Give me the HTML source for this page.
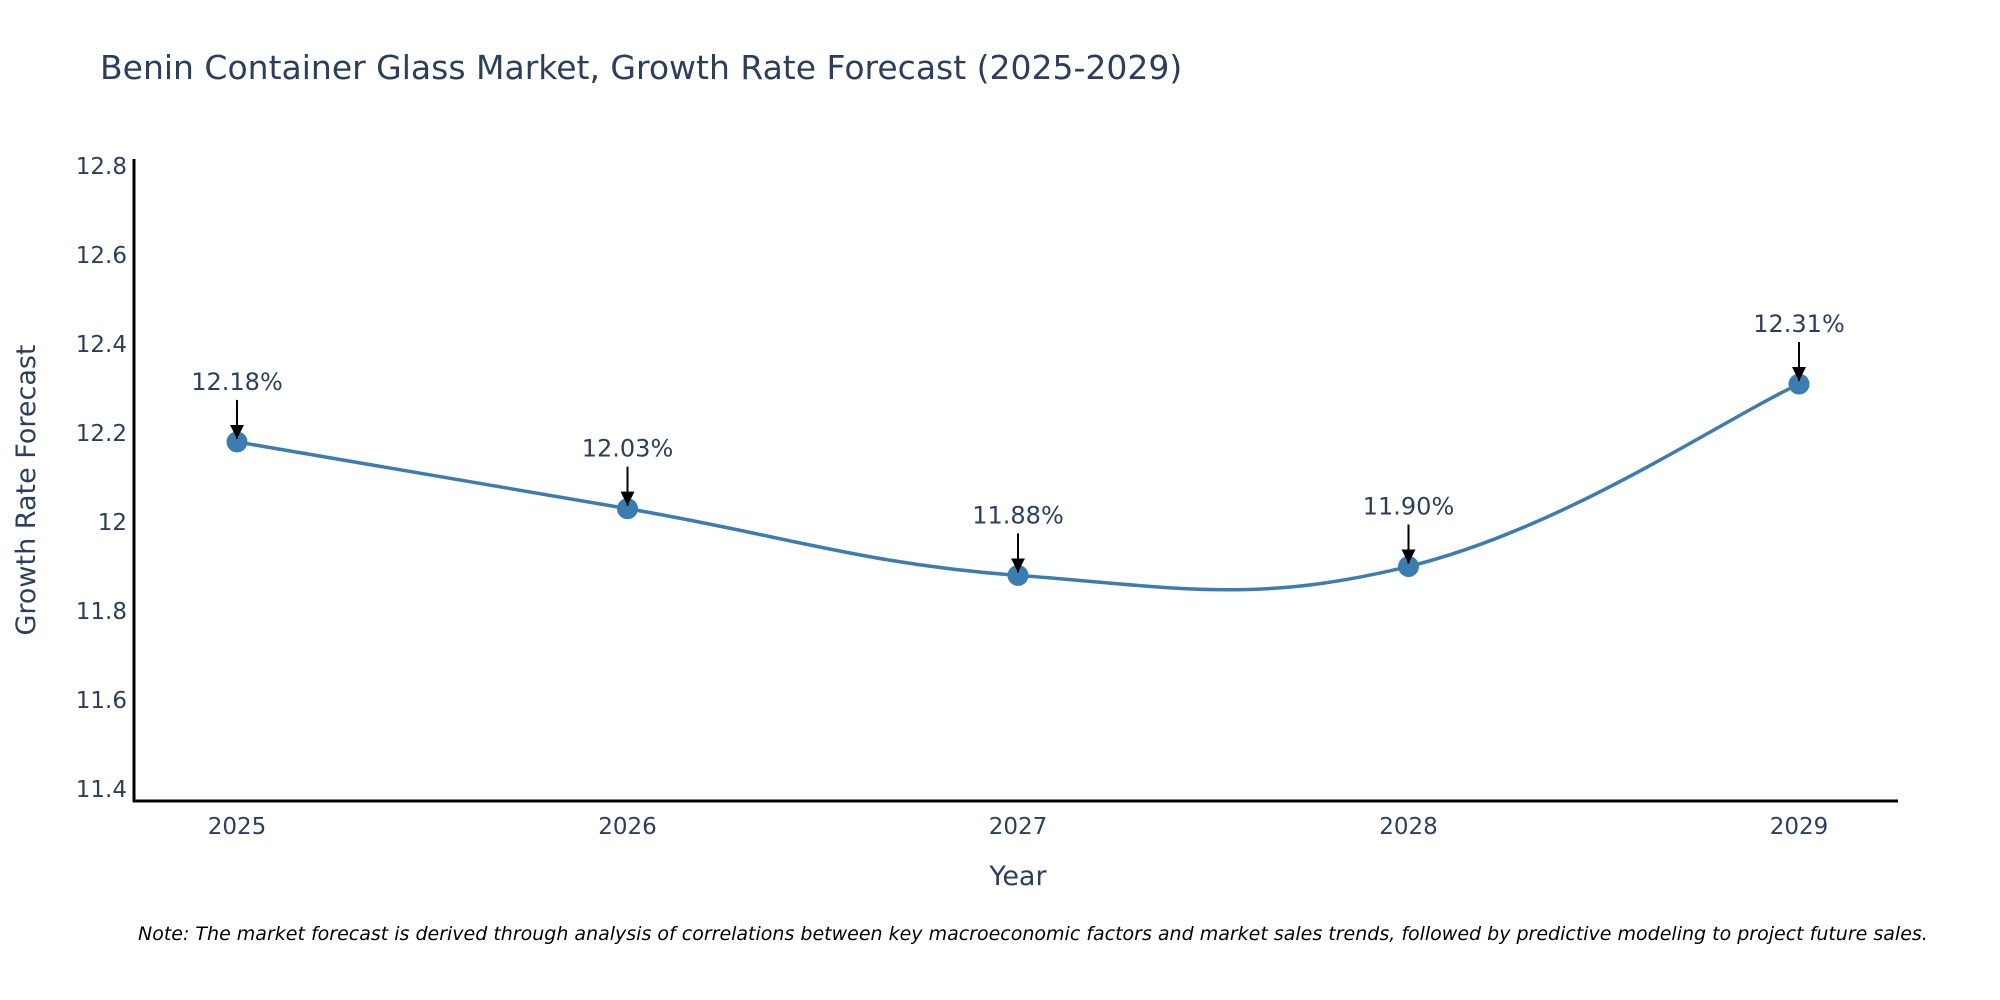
<!DOCTYPE html>
<html><head><meta charset="utf-8"><style>
body{margin:0;background:#fff;}
svg{display:block;font-family:"DejaVu Sans","Liberation Sans",sans-serif;}
</style></head><body>
<svg id="chart" width="2000" height="1000" viewBox="0 0 2000 1000">
<text x="100" y="79" font-size="33" fill="#2a3f5f">Benin Container Glass Market, Growth Rate Forecast (2025-2029)</text>
<g id="yticks"></g>
<g id="xticks"></g>
<line x1="134" y1="159" x2="134" y2="802" stroke="#000" stroke-width="3"/>
<line x1="133" y1="801" x2="1898" y2="801" stroke="#000" stroke-width="3"/>
<text transform="translate(35,490) rotate(-90)" text-anchor="middle" font-size="27" fill="#2a3f5f">Growth Rate Forecast</text>
<text x="1018" y="885" text-anchor="middle" font-size="27" fill="#2a3f5f">Year</text>
<path id="line" fill="none" stroke="#3b7db1" stroke-width="3.5"/>
<g id="points"></g>
<defs><marker id="ah" viewBox="0 0 10 10" refX="10" refY="5" markerWidth="7" markerHeight="7" orient="auto" markerUnits="strokeWidth"><path d="M0,0L10,5L0,10z" fill="#000"/></marker></defs>
<text x="138" y="940" font-size="19" font-style="italic" fill="#000">Note: The market forecast is derived through analysis of correlations between key macroeconomic factors and market sales trends, followed by predictive modeling to project future sales.</text>
</svg>
<script>
const years = ["2025","2026","2027","2028","2029"];
const values = [12.18, 12.03, 11.88, 11.90, 12.31];
const labels = ["12.18%","12.03%","11.88%","11.90%","12.31%"];
const yTickValues = [11.4, 11.6, 11.8, 12.0, 12.2, 12.4, 12.6, 12.8];
const yTickLabels = ["11.4","11.6","11.8","12","12.2","12.4","12.6","12.8"];
const NS="http://www.w3.org/2000/svg";
function xs(i){return 237 + i*390.5;}
function ys(v){return 522 - (v-12.0)/0.2*89;}
function mk(t,a,p){const e=document.createElementNS(NS,t);for(const k in a)e.setAttribute(k,a[k]);p.appendChild(e);return e;}
const yt=document.getElementById('yticks');
yTickValues.forEach((v,i)=>{const t=mk('text',{x:127,y:ys(v)+8,'text-anchor':'end','font-size':23,fill:'#2a3f5f'},yt);


t.textContent=yTickLabels[i];});
const xt=document.getElementById('xticks');
years.forEach((y,i)=>{const t=mk('text',{x:xs(i),y:834,'text-anchor':'middle','font-size':23,fill:'#2a3f5f'},xt);


t.textContent=y;});
const P=values.map((v,i)=>[xs(i),ys(v)]);
let d='M'+P[0][0]+','+P[0][1];const s=0.2;
for(let i=0;i<P.length-1;i++){const p0=P[Math.max(0,i-1)],p1=P[i],p2=P[i+1],p3=P[Math.min(P.length-1,i+2)];
const c1=[p1[0]+(p2[0]-p0[0])*s,p1[1]+(p2[1]-p0[1])*s],c2=[p2[0]-(p3[0]-p1[0])*s,p2[1]-(p3[1]-p1[1])*s];
d+=` C${c1[0]},${c1[1]} ${c2[0]},${c2[1]} ${p2[0]},${p2[1]}`;}
document.getElementById('line').setAttribute('d',d);
const pg=document.getElementById('points');
P.forEach((p,i)=>{const c=mk('circle',{cx:p[0],cy:p[1],r:10.5,fill:'#3b7db1'},pg);


const a=mk('line',{x1:p[0],y1:p[1]-42,x2:p[0],y2:p[1]-3,stroke:'#000','stroke-width':2,'marker-end':'url(#ah)'},pg);


const t=mk('text',{x:p[0],y:p[1]-52,'text-anchor':'middle','font-size':24,fill:'#2a3f5f'},pg);


t.textContent=labels[i];});
</script>
</body></html>
